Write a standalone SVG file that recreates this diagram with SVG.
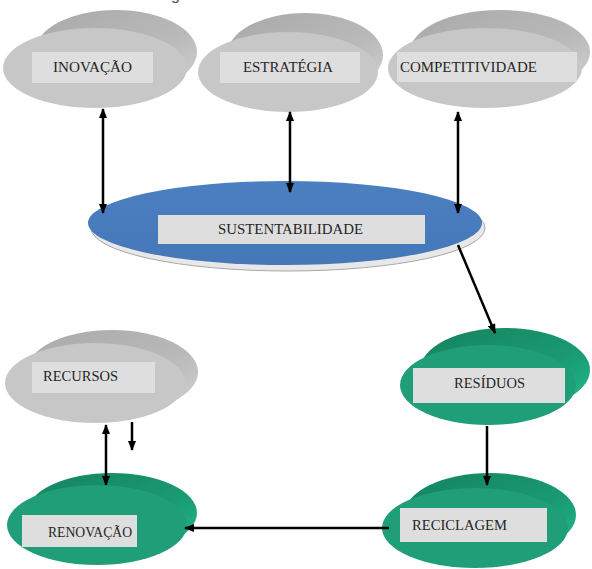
<svg xmlns="http://www.w3.org/2000/svg" width="592" height="569" viewBox="0 0 592 569">
  <defs>
    <linearGradient id="grayBack" x1="0" y1="0" x2="1" y2="1">
      <stop offset="0" stop-color="#a9a9a9"/>
      <stop offset="0.6" stop-color="#b9b9b9"/>
      <stop offset="1" stop-color="#d4d4d4"/>
    </linearGradient>
    <linearGradient id="greenBack" x1="0" y1="0" x2="1" y2="1">
      <stop offset="0" stop-color="#15825f"/>
      <stop offset="0.6" stop-color="#1a9a72"/>
      <stop offset="1" stop-color="#1fbf8e"/>
    </linearGradient>
    <linearGradient id="blueFill" x1="0" y1="0" x2="0" y2="1">
      <stop offset="0" stop-color="#4a7fc1"/>
      <stop offset="1" stop-color="#4678b8"/>
    </linearGradient>
    <marker id="arrow" viewBox="0 0 10 8" refX="9" refY="4" markerWidth="10" markerHeight="8" markerUnits="userSpaceOnUse" orient="auto-start-reverse">
      <path d="M0,0 L10,4 L0,8 z" fill="#000"/>
    </marker>
    <style>
      .back-gray { fill: url(#grayBack); }
      .front-gray { fill: #c7c7c7; }
      .back-green { fill: url(#greenBack); }
      .front-green { fill: #1f9e78; }
      .label { fill: #dedede; }
      .txt { font-family: "Liberation Serif", "Times New Roman", serif; font-size: 14px; fill: #262626; }
      .conn { stroke: #000; stroke-width: 2.5; fill: none; }
    </style>
  </defs>

  <rect width="592" height="569" fill="#fff"/>

  <!-- caption fragment running off the top edge -->
  <text x="171" y="0" style="font-family: 'Liberation Sans', Arial, sans-serif; font-size: 16px; fill: #555;">g</text>

  <g id="inovacao">
    <ellipse cx="116" cy="52" rx="81" ry="42" class="back-gray"/>
    <ellipse cx="95" cy="68" rx="92" ry="40" class="front-gray"/>
    <rect x="32" y="52" width="121" height="31" class="label"/>
    <text x="53" y="72" class="txt" textLength="79" lengthAdjust="spacingAndGlyphs">INOVAÇÃO</text>
  </g>

  <g id="estrategia">
    <ellipse cx="305" cy="55" rx="78" ry="42" class="back-gray"/>
    <ellipse cx="288" cy="72" rx="90" ry="40" class="front-gray"/>
    <rect x="220" y="52" width="140" height="31" class="label"/>
    <text x="243" y="72" class="txt" textLength="90" lengthAdjust="spacingAndGlyphs">ESTRATÉGIA</text>
  </g>

  <g id="competitividade">
    <ellipse cx="500" cy="52" rx="90" ry="42" class="back-gray"/>
    <ellipse cx="485" cy="68" rx="97" ry="40" class="front-gray"/>
    <rect x="397" y="52" width="180" height="30" class="label"/>
    <text x="400" y="72" class="txt" textLength="137" lengthAdjust="spacingAndGlyphs">COMPETITIVIDADE</text>
  </g>

  <g id="sustentabilidade">
    <ellipse cx="288" cy="228" rx="197" ry="43" fill="#e8e8e8" stroke="#a8a8a8" stroke-width="1"/>
    <ellipse cx="285" cy="223" rx="197" ry="42" fill="url(#blueFill)"/>
    <rect x="158" y="215" width="267" height="29" class="label"/>
    <text x="218" y="234" class="txt" textLength="145" lengthAdjust="spacingAndGlyphs">SUSTENTABILIDADE</text>
  </g>

  <g id="residuos">
    <ellipse cx="505" cy="370" rx="85" ry="42" class="back-green"/>
    <ellipse cx="488" cy="385" rx="88" ry="40" class="front-green"/>
    <rect x="413" y="368" width="152" height="35" class="label"/>
    <text x="454" y="388" class="txt" textLength="71" lengthAdjust="spacingAndGlyphs">RESÍDUOS</text>
  </g>

  <g id="reciclagem">
    <ellipse cx="490" cy="515" rx="86" ry="42" class="back-green"/>
    <ellipse cx="475" cy="528" rx="93" ry="40" class="front-green"/>
    <rect x="400" y="508" width="147" height="34" class="label"/>
    <text x="412" y="530" class="txt" textLength="95" lengthAdjust="spacingAndGlyphs">RECICLAGEM</text>
  </g>

  <g id="renovacao">
    <ellipse cx="112" cy="513" rx="85" ry="40" class="back-green"/>
    <ellipse cx="97" cy="525" rx="90" ry="40" class="front-green"/>
    <rect x="22" y="515" width="115" height="32" class="label"/>
    <text x="48" y="537" class="txt" textLength="84" lengthAdjust="spacingAndGlyphs">RENOVAÇÃO</text>
  </g>

  <g id="recursos">
    <ellipse cx="112" cy="372" rx="86" ry="42" class="back-gray"/>
    <ellipse cx="95" cy="383" rx="90" ry="40" class="front-gray"/>
    <rect x="32" y="362" width="123" height="31" class="label"/>
    <text x="43" y="381" class="txt" textLength="75" lengthAdjust="spacingAndGlyphs">RECURSOS</text>
  </g>

  <g id="connectors">
    <line x1="103" y1="109" x2="103" y2="213" class="conn" marker-start="url(#arrow)" marker-end="url(#arrow)"/>
    <line x1="290" y1="112" x2="290" y2="192" class="conn" marker-start="url(#arrow)" marker-end="url(#arrow)"/>
    <line x1="458" y1="112" x2="458" y2="213" class="conn" marker-start="url(#arrow)" marker-end="url(#arrow)"/>
    <line x1="458" y1="245" x2="495" y2="333" class="conn" marker-end="url(#arrow)"/>
    <line x1="487" y1="426" x2="487" y2="485" class="conn" marker-end="url(#arrow)"/>
    <line x1="389" y1="528" x2="185" y2="528" class="conn" marker-end="url(#arrow)"/>
    <line x1="106" y1="425" x2="106" y2="485" class="conn" marker-start="url(#arrow)" marker-end="url(#arrow)"/>
    <line x1="132" y1="422" x2="132" y2="450" class="conn" marker-end="url(#arrow)"/>
  </g>
</svg>
